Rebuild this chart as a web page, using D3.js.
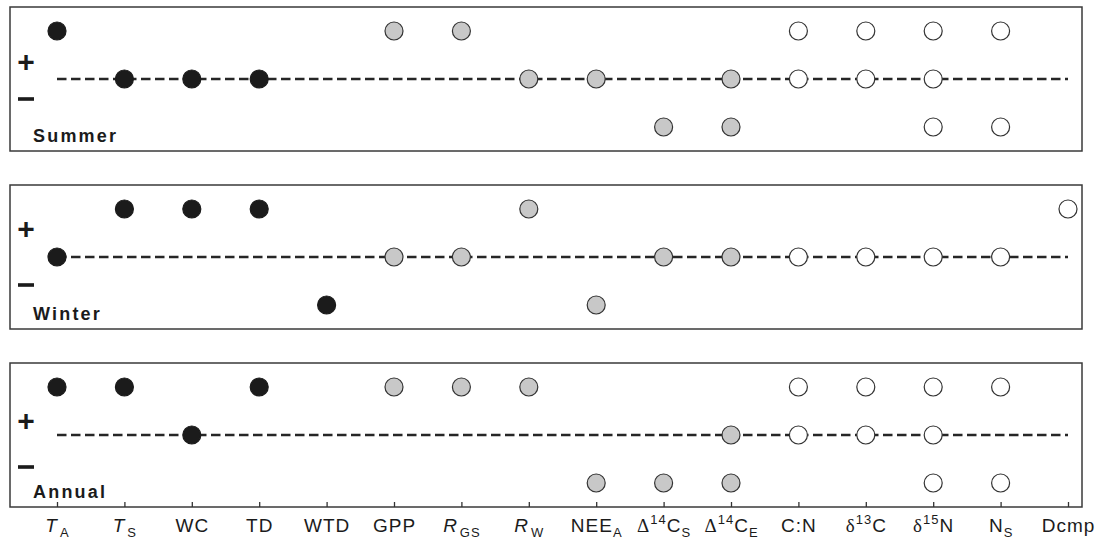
<!DOCTYPE html>
<html>
<head>
<meta charset="utf-8">
<script src="https://cdn.jsdelivr.net/npm/d3@7"></script>
<style>
  body { margin: 0; background: #fff; }
  svg { display: block; font-family: "Liberation Sans", Arial, sans-serif; }
</style>
</head>
<body>
<div id="chart"></div>
<script>
const categories = ['TA', 'TS', 'WC', 'TD', 'WTD', 'GPP', 'RGS', 'RW', 'NEEA',
  'D14CS', 'D14CE', 'CN', 'd13C', 'd15N', 'NS', 'Dcmp'];

// tick labels: [prefix, superscript, main, subscript, italic main]
const tickLabels = [
  ['', '', 'T', 'A', true], ['', '', 'T', 'S', true], ['', '', 'WC', '', false],
  ['', '', 'TD', '', false], ['', '', 'WTD', '', false], ['', '', 'GPP', '', false],
  ['', '', 'R', 'GS', true], ['', '', 'R', 'W', true], ['', '', 'NEE', 'A', false],
  ['Δ', '14', 'C', 'S', false], ['Δ', '14', 'C', 'E', false], ['', '', 'C:N', '', false],
  ['δ', '13', 'C', '', false], ['δ', '15', 'N', '', false], ['', '', 'N', 'S', false],
  ['', '', 'Dcmp', '', false]
];

// variable group -> fill (black: physical, grey: fluxes, white: soil)
const groups = ['phys', 'phys', 'phys', 'phys', 'phys', 'flux', 'flux', 'flux', 'flux',
  'flux', 'flux', 'soil', 'soil', 'soil', 'soil', 'soil'];

// correlation sign per variable: 1 = positive, 0 = none, -1 = negative
const summer = [[1], [0], [0], [0], [], [1], [1], [0], [0], [-1], [0, -1],
  [1, 0], [1, 0], [1, 0, -1], [1, -1], []];
const winter = [[0], [1], [1], [1], [-1], [0], [0], [1], [-1], [0], [0],
  [0], [0], [0], [0], [1]];
const annual = [[1], [1], [0], [1], [], [1], [1], [1], [-1], [-1], [0, -1],
  [1, 0], [1, 0], [1, 0, -1], [1, -1], []];

const seasons = ['Summer', 'Winter', 'Annual'];
const seasonValues = [summer, winter, annual];

const width = 1099, height = 542;
const boxLeft = 10, boxRight = 1082, boxH = 144;
const panelTops = [7, 185, 363];
const plusY = [54, 43, 57], minusY = [92, 100, 104];

const svg = d3.select('#chart').append('svg')
  .attr('width', width)
  .attr('height', height);

const x = d3.scalePoint()
  .domain(categories)
  .range([57, 1068]);

const y = d3.scalePoint()
  .domain([1, 0, -1])
  .range([24, 120]);

const fill = d3.scaleOrdinal()
  .domain(['phys', 'flux', 'soil'])
  .range(['#1b1b1b', '#c8c8c8', '#ffffff']);

seasons.forEach((season, i) => {
  const g = svg.append('g')
    .attr('transform', `translate(0,${panelTops[i]})`);

  g.append('rect')
    .attr('x', boxLeft)
    .attr('y', 0)
    .attr('width', boxRight - boxLeft)
    .attr('height', boxH)
    .attr('fill', 'none')
    .attr('stroke', '#3a3a3a')
    .attr('stroke-width', 1.5);

  // zero line
  g.append('line')
    .attr('x1', x.range()[0])
    .attr('x2', x.range()[1])
    .attr('y1', y(0))
    .attr('y2', y(0))
    .attr('stroke', '#262626')
    .attr('stroke-width', 2.6)
    .attr('stroke-dasharray', '9.5,4.5');

  g.append('text')
    .attr('x', 26)
    .attr('y', plusY[i])
    .attr('dy', '0.35em')
    .attr('text-anchor', 'middle')
    .style('font-size', '30px')
    .style('font-weight', 'bold')
    .style('fill', '#1b1b1b')
    .text('+');

  g.append('rect')
    .attr('x', 18)
    .attr('y', minusY[i] - 1.8)
    .attr('width', 16)
    .attr('height', 3.6)
    .attr('fill', '#1b1b1b');

  g.append('text')
    .attr('x', 33)
    .attr('y', 135)
    .style('font-size', '18px')
    .style('font-weight', 'bold')
    .style('letter-spacing', '2.2px')
    .style('fill', '#1b1b1b')
    .text(season);

  const points = [];
  seasonValues[i].forEach((signs, j) => {
    signs.forEach(s => points.push({ cat: categories[j], sign: s, group: groups[j] }));
  });

  g.selectAll('circle')
    .data(points)
    .enter()
    .append('circle')
    .attr('cx', d => x(d.cat))
    .attr('cy', d => y(d.sign))
    .attr('r', 9)
    .attr('fill', d => fill(d.group))
    .attr('stroke', d => d.group === 'phys' ? '#1b1b1b' : '#333')
    .attr('stroke-width', 1.2);
});

// bottom axis with inward ticks on the last panel
const axis = svg.append('g')
  .attr('transform', `translate(0,${panelTops[2] + boxH})`)
  .call(d3.axisBottom(x).tickSizeInner(-5).tickSizeOuter(0).tickFormat(''));

axis.select('.domain').remove();
axis.selectAll('.tick line')
  .attr('stroke', '#333')
  .attr('stroke-width', 1.3);

axis.selectAll('.tick')
  .append('text')
  .attr('y', 25)
  .attr('fill', '#1b1b1b')
  .attr('text-anchor', 'middle')
  .style('font-size', '19px')
  .style('letter-spacing', '1px')
  .each(function (d, i) {
    const [pre, sup, main, sub, ital] = tickLabels[i];
    const t = d3.select(this);
    if (pre) {
      t.append('tspan')
        .style('font-family', '"Liberation Serif", serif')
        .text(pre);
    }
    if (sup) {
      t.append('tspan')
        .attr('dy', -8)
        .style('font-size', '13px')
        .text(sup);
    }
    t.append('tspan')
      .attr('dy', sup ? 8 : 0)
      .style('font-style', ital ? 'italic' : 'normal')
      .text(main);
    if (sub) {
      t.append('tspan')
        .attr('dx', ital ? 2 : 0)
        .attr('dy', 5)
        .style('font-size', '13px')
        .text(sub);
    }
  });
</script>
</body>
</html>
